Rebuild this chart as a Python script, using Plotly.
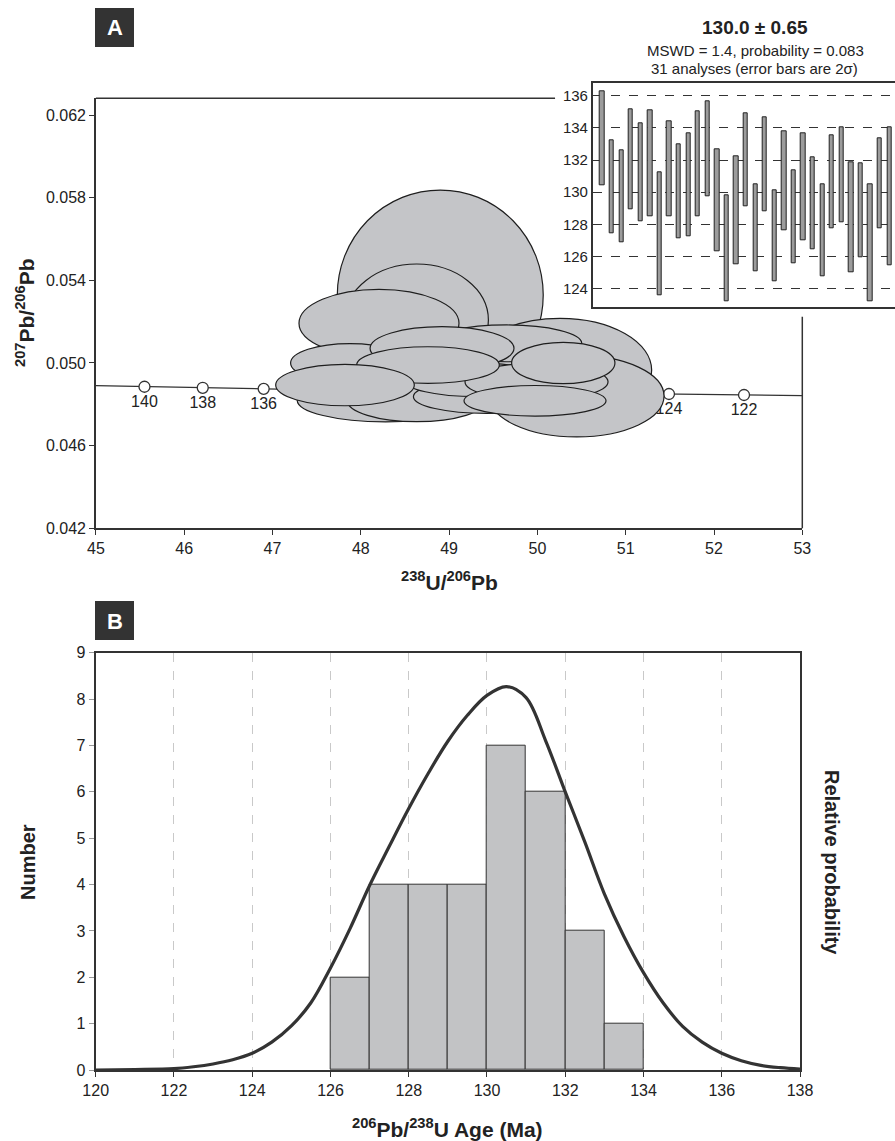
import plotly.graph_objects as go

W, H = 895, 1141

# ---------------- Panel A data ----------------
conc_age = [140, 138, 136, 134, 132, 130, 128, 126, 124, 122]
conc_x = [45.55, 46.21, 46.90, 47.60, 48.33, 49.07, 49.84, 50.64, 51.49, 52.34]
conc_y = [0.04885, 0.04880, 0.04875, 0.04870, 0.04866, 0.04862, 0.04858, 0.04854, 0.04850, 0.04845]
conc_edge_x = [45.0, 53.0]
conc_edge_y = [0.04890, 0.04842]

# error ellipses (centre x, centre y, half-width x, half-height y), back to front
ell_cx = [48.90, 48.633, 48.206, 50.256, 49.652, 48.28, 48.633, 49.426, 50.445,
          49.312, 49.99, 47.877, 48.92, 50.293, 48.761, 47.821, 49.973]
ell_cy = [0.05329, 0.05208, 0.05192, 0.04966, 0.05095, 0.04820, 0.04821, 0.04837, 0.04840,
          0.04918, 0.04909, 0.05000, 0.05071, 0.05000, 0.04990, 0.04893, 0.04817]
ell_sx = [1.166, 0.812, 0.906, 1.038, 0.85, 1.0, 0.79, 0.83, 0.989,
          0.823, 0.81, 0.672, 0.815, 0.585, 0.808, 0.785, 0.804]
ell_sy = [0.00508, 0.00271, 0.001645, 0.0025, 0.00089, 0.00105, 0.00105, 0.00081, 0.00198,
          0.00081, 0.00089, 0.00094, 0.00105, 0.0010, 0.000887, 0.0010, 0.00074]

a_xticks = [45, 46, 47, 48, 49, 50, 51, 52, 53]
a_yticks = [0.042, 0.046, 0.050, 0.054, 0.058, 0.062]

# ---------------- Inset (weighted mean) data ----------------
mean_age = 130.0
mean_err = 0.65
mswd = 1.4
probability = 0.083
inset_hi = [136.29, 133.24, 132.58, 135.15, 134.26, 135.09, 131.23, 134.38, 133.00, 133.64,
            135.05, 135.65, 132.64, 129.82, 132.25, 134.88, 130.47, 134.65, 130.13, 133.76,
            131.34, 133.66, 132.17, 130.51, 133.53, 134.03, 131.88, 131.79, 130.47, 133.37, 134.03]
inset_lo = [130.45, 127.44, 126.88, 128.95, 128.21, 128.50, 123.59, 128.50, 127.15, 127.25,
            128.50, 129.72, 126.32, 123.21, 125.51, 129.10, 125.08, 128.83, 124.46, 127.61,
            125.57, 126.98, 126.47, 124.77, 127.73, 128.12, 125.04, 125.95, 123.23, 127.73, 125.45]
inset_yticks = [124, 126, 128, 130, 132, 134, 136]

# ---------------- Panel B data ----------------
bin_left = [126, 127, 128, 129, 130, 131, 132, 133]
counts = [2, 4, 4, 4, 7, 6, 3, 1]
prob_age = [120, 121, 122, 122.5, 123, 123.5, 124, 124.5, 125, 125.5, 126, 126.5, 127, 127.5,
            128, 128.5, 129, 129.5, 130, 130.5, 131, 131.5, 132, 132.5, 133, 133.5, 134,
            134.5, 135, 135.5, 136, 136.5, 137, 137.5, 138]
prob_val = [0.0, 0.01, 0.03, 0.07, 0.13, 0.22, 0.36, 0.6, 0.95, 1.45, 2.2, 3.05, 3.98, 4.82,
            5.64, 6.4, 7.09, 7.65, 8.08, 8.27, 8.03, 7.1, 6.0, 4.92, 3.8, 2.88, 2.1,
            1.45, 0.94, 0.6, 0.36, 0.2, 0.1, 0.05, 0.02]
b_xticks = [120, 122, 124, 126, 128, 130, 132, 134, 136, 138]
b_yticks = [0, 1, 2, 3, 4, 5, 6, 7, 8, 9]

FONT = "Liberation Sans, Arial, Helvetica, sans-serif"
DARK = "#333333"
TXT = "#222222"


def fx(px):
    return px / W


def fy(py):
    return 1 - py / H


fig = go.Figure()

# concordia line and age markers
fig.add_trace(go.Scatter(
    x=[conc_edge_x[0]] + conc_x + [conc_edge_x[1]],
    y=[conc_edge_y[0]] + conc_y + [conc_edge_y[1]],
    mode="lines", line=dict(color=DARK, width=1.2),
    xaxis="x", yaxis="y", hoverinfo="skip"))
fig.add_trace(go.Scatter(
    x=conc_x, y=conc_y, mode="markers+text",
    text=[str(a) for a in conc_age], textposition="bottom center",
    textfont=dict(size=16, color=TXT, family=FONT),
    marker=dict(symbol="circle", size=11, color="white", line=dict(color=DARK, width=1.3)),
    xaxis="x", yaxis="y", cliponaxis=False))

# inset bars
fig.add_trace(go.Bar(
    x=list(range(1, len(inset_hi) + 1)),
    y=[h - l for h, l in zip(inset_hi, inset_lo)],
    base=inset_lo, width=0.45,
    marker=dict(color="#9c9c9c", line=dict(color="#222222", width=1)),
    xaxis="x2", yaxis="y2"))

# histogram
fig.add_trace(go.Bar(
    x=[b + 0.5 for b in bin_left], y=counts, width=1,
    marker=dict(color="#c2c3c5", line=dict(color=DARK, width=1)),
    xaxis="x3", yaxis="y3"))
fig.add_trace(go.Scatter(
    x=prob_age, y=prob_val, mode="lines",
    line=dict(color=DARK, width=3.2, shape="spline", smoothing=1.0),
    xaxis="x3", yaxis="y3"))

shapes = []
for cx, cy, sx, sy in zip(ell_cx, ell_cy, ell_sx, ell_sy):
    shapes.append(dict(type="circle", xref="x", yref="y",
                       x0=cx - sx, x1=cx + sx, y0=cy - sy, y1=cy + sy,
                       fillcolor="#c4c5c8", line=dict(color="#1e1e1e", width=1.2),
                       layer="above"))
# panel A partial frame (top and right, interrupted by the inset)
shapes.append(dict(type="line", xref="x domain", yref="y domain", x0=0, x1=0.65, y0=1, y1=1,
                   line=dict(color=DARK, width=1.5)))
shapes.append(dict(type="line", xref="x domain", yref="y domain", x0=1, x1=1, y0=0, y1=0.492,
                   line=dict(color=DARK, width=1.5)))
# inset weighted-mean line
shapes.append(dict(type="line", xref="x2 domain", yref="y2", x0=0, x1=1, y0=mean_age, y1=mean_age,
                   line=dict(color="#111111", width=1.3), layer="below"))
# panel label boxes
for (x0, y0) in [(95, 8), (95, 601)]:
    shapes.append(dict(type="rect", xref="paper", yref="paper",
                       x0=fx(x0), x1=fx(x0 + 39), y0=fy(y0 + 39), y1=fy(y0),
                       fillcolor=DARK, line=dict(width=0)))

ann = []


def add_text(text, px, py, size, angle=0, color=TXT):
    ann.append(dict(text=text, x=fx(px), y=fy(py), xref="paper", yref="paper",
                    xanchor="center", yanchor="middle", showarrow=False, textangle=angle,
                    font=dict(size=size, color=color, family=FONT)))


add_text("<b>A</b>", 114.5, 28, 22, color="white")
add_text("<b>B</b>", 114.5, 621, 22, color="white")
add_text(f"<b>{mean_age:.1f} ± {mean_err}</b>", 755, 27, 19)
add_text(f"MSWD = {mswd}, probability = {probability}", 755, 50, 15)
add_text(f"{len(inset_hi)} analyses (error bars are 2σ)", 754, 68, 15)
add_text("<b><sup>207</sup>Pb/<sup>206</sup>Pb</b>", 25, 313, 21, angle=-90)
add_text("<b><sup>238</sup>U/<sup>206</sup>Pb</b>", 449, 581, 21)
add_text("<b>Number</b>", 28, 862, 20, angle=-90)
add_text("<b>Relative probability</b>", 832, 862, 20, angle=90)
add_text("<b><sup>206</sup>Pb/<sup>238</sup>U Age (Ma)</b>", 447, 1128, 21)

common = dict(showgrid=False, zeroline=False, showline=True, linecolor=DARK, automargin=False,
              tickfont=dict(size=16, color=TXT, family=FONT))

fig.update_layout(
    width=W, height=H, autosize=False, margin=dict(l=0, r=0, t=0, b=0, pad=0),
    paper_bgcolor="white", plot_bgcolor="white", showlegend=False,
    font=dict(family=FONT, color=TXT),
    bargap=0,
    xaxis=dict(domain=[fx(95.9), fx(802.3)], range=[45, 53], tickvals=a_xticks,
               ticks="outside", ticklen=5, tickcolor=DARK, linewidth=1.5, anchor="y", **common),
    yaxis=dict(domain=[fy(528.3), fy(98.3)], range=[0.042, 0.06281], tickvals=a_yticks,
               tickformat=".3f", ticks="outside", ticklen=5, tickcolor=DARK, linewidth=1.5,
               anchor="x", **common),
    xaxis2=dict(domain=[fx(592.7), 1.0], range=[0, 31.59], anchor="y2", showticklabels=False,
                ticks="", showgrid=False, zeroline=False, showline=True, mirror=True,
                linecolor=DARK, linewidth=1.5, automargin=False),
    yaxis2=dict(domain=[fy(307.3), fy(83.3)], range=[122.84, 136.77], anchor="x2",
                tickvals=inset_yticks, ticks="", showline=True, linecolor=DARK, linewidth=1.5,
                showgrid=True, gridcolor="#333333", griddash="dash", gridwidth=1, zeroline=False,
                automargin=False, tickfont=dict(size=15, color=TXT, family=FONT)),
    xaxis3=dict(domain=[fx(95.7), fx(800)], range=[120, 138], tickvals=b_xticks, anchor="y3",
                ticks="outside", ticklen=5, tickcolor=DARK, showgrid=True, gridcolor="#c9c9c9",
                griddash="dash", gridwidth=1, zeroline=False, showline=True, mirror=True,
                linecolor=DARK, linewidth=2.2, automargin=False,
                tickfont=dict(size=16, color=TXT, family=FONT)),
    yaxis3=dict(domain=[fy(1070), fy(652.7)], range=[0, 9], tickvals=b_yticks, anchor="x3",
                ticks="outside", ticklen=5, tickcolor="#999999", showgrid=False, zeroline=False,
                showline=True, mirror=True, linecolor=DARK, linewidth=2.2, automargin=False,
                tickfont=dict(size=16, color=TXT, family=FONT)),
    shapes=shapes,
    annotations=ann,
)

fig.write_html(
    "out.html",
    config={"displayModeBar": False},
    post_script="document.body.style.margin='0';document.body.style.overflow='hidden';",
)
